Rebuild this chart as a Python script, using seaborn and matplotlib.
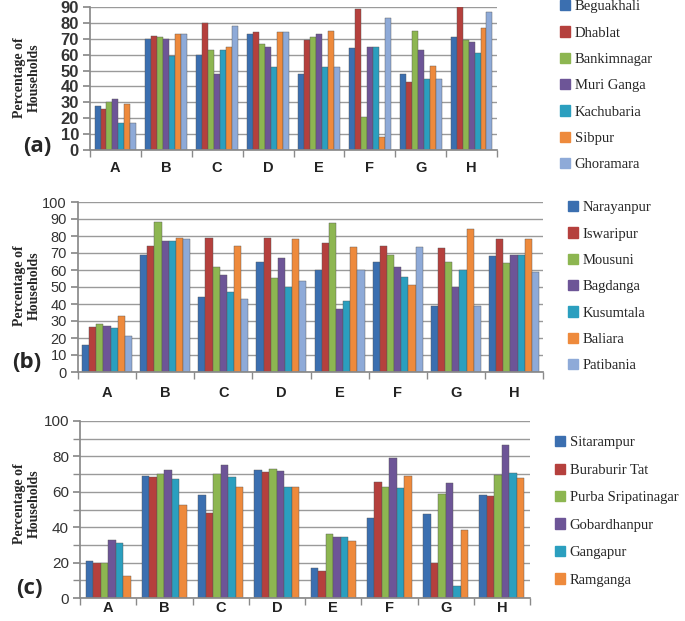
import matplotlib
matplotlib.use("Agg")
import matplotlib.pyplot as plt
import numpy as np
import pandas as pd
import seaborn as sns

categories = ["A", "B", "C", "D", "E", "F", "G", "H"]

# panel (a)
villages_a = ["Beguakhali", "Dhablat", "Bankimnagar", "Muri Ganga", "Kachubaria", "Sibpur", "Ghoramara"]
beguakhali = [28, 70, 60, 73, 48, 64, 48, 71]
dhablat = [26, 72, 80, 74, 69, 89, 43, 90]
bankimnagar = [30, 71, 63, 67, 71, 21, 75, 69]
muri_ganga = [32, 70, 48, 65, 73, 65, 63, 68]
kachubaria = [17, 59, 63, 52, 52, 65, 45, 61]
sibpur = [29, 73, 65, 74, 75, 8, 53, 77]
ghoramara = [17, 73, 78, 74, 52, 83, 45, 87]

# panel (b)
villages_b = ["Narayanpur", "Iswaripur", "Mousuni", "Bagdanga", "Kusumtala", "Baliara", "Patibania"]
narayanpur = [16, 69, 44, 65, 60, 65, 39, 68]
iswaripur = [26.5, 74, 79, 79, 76, 74, 73, 78]
mousuni = [28, 88, 62, 55.5, 87.5, 69, 64.5, 64]
bagdanga = [27, 77, 57, 67, 37, 62, 50, 69]
kusumtala = [26, 77, 47, 50, 42, 56, 60, 69]
baliara = [33, 79, 74, 78.5, 73.5, 51, 84, 78]
patibania = [21, 78, 43, 53.5, 60, 73.5, 39, 59]

# panel (c)
villages_c = ["Sitarampur", "Buraburir Tat", "Purba Sripatinagar", "Gobardhanpur", "Gangapur", "Ramganga"]
sitarampur = [20.8, 69, 58, 72.3, 17, 45, 47.7, 58.3]
buraburir_tat = [20, 68.5, 48.3, 71, 15, 65.7, 20, 57.7]
purba_sripatinagar = [20, 70, 70, 73, 36.4, 62.8, 59, 69.4]
gobardhanpur = [32.6, 72.3, 75, 71.7, 34.5, 79, 65, 86.4]
gangapur = [30.8, 67.5, 68.5, 62.8, 34.5, 62.3, 7, 70.8]
ramganga = [12.5, 52.8, 62.8, 62.5, 32, 69, 38.3, 68]

colors = ["#3b6fb0", "#b5403d", "#8db651", "#6d5597", "#2b9fbf", "#ee8a3c", "#8eaad8"]


def to_long(names, series):
    rows = []
    for name, vals in zip(names, series):
        for cat, v in zip(categories, vals):
            rows.append({"cat": cat, "village": name, "pct": v})
    return pd.DataFrame(rows)


df_a = to_long(villages_a, [beguakhali, dhablat, bankimnagar, muri_ganga, kachubaria, sibpur, ghoramara])
df_b = to_long(villages_b, [narayanpur, iswaripur, mousuni, bagdanga, kusumtala, baliara, patibania])
df_c = to_long(villages_c, [sitarampur, buraburir_tat, purba_sripatinagar, gobardhanpur, gangapur, ramganga])

sns.set_theme(style="white")
plt.rcParams["font.family"] = ["Liberation Sans", "DejaVu Sans"]

W, H = 685, 621
fig = plt.figure(figsize=(W / 100, H / 100), dpi=100)


def px_axes(left, right, top, bottom):
    return fig.add_axes([left / W, 1 - bottom / H, (right - left) / W, (bottom - top) / H])


def draw_panel(ax, df, names, ymax, major, tick_size, tick_weight, bar_width, xpad):
    sns.barplot(data=df, x="cat", y="pct", hue="village", hue_order=names,
                palette=colors[:len(names)], width=bar_width, ax=ax,
                edgecolor="#555555", linewidth=0.3, saturation=1, errorbar=None)
    ax.get_legend().remove()
    ax.set_ylim(0, ymax)
    ax.set_xlim(-0.5, len(categories) - 0.5)
    ax.set_yticks(np.arange(0, ymax + 1, major))
    ax.set_yticks(np.arange(10, ymax if ymax == 90 else ymax - 5, 10), minor=True)
    ax.grid(axis="y", which="both", color="#9a9a9a", linewidth=1.0)
    ax.grid(axis="x", visible=False)
    ax.set_axisbelow(True)
    ax.set_xlabel("")
    ax.set_ylabel("")
    for s in ["top", "right"]:
        ax.spines[s].set_visible(False)
    for s in ["left", "bottom"]:
        ax.spines[s].set_color("#8a8a8a")
    ax.tick_params(axis="y", which="major", left=True, length=5, color="#8a8a8a",
                   labelsize=tick_size, labelcolor="#333333", pad=3)
    ax.tick_params(axis="y", which="minor", left=True, length=5, color="#8a8a8a")
    for t in ax.get_yticklabels():
        t.set_fontweight(tick_weight)
    ax.set_xticks(range(len(categories)))
    ax.set_xticklabels(categories, fontweight="bold", fontsize=10.5, color="#222222")
    ax.tick_params(axis="x", which="major", length=0, pad=xpad)
    ax.set_xticks(np.arange(-0.5, len(categories), 1), minor=True)
    ax.tick_params(axis="x", which="minor", bottom=True, length=5, color="#8a8a8a")


def add_legend(names, x, y, spacing):
    handles = [plt.Rectangle((0, 0), 1, 1, color=c) for c in colors[:len(names)]]
    fig.legend(handles, names, loc="upper left", bbox_to_anchor=(x / W, 1 - y / H),
               frameon=False, prop={"family": "Liberation Serif", "size": 10.5},
               handlelength=0.7, handleheight=0.7, handletextpad=0.3,
               labelspacing=spacing, borderaxespad=0, borderpad=0)


def side_labels(yc, tag, tag_x, tag_y):
    fig.text(27 / W, 1 - yc / H, "Percentage of\nHouseholds", rotation=90, ha="center",
             va="center", multialignment="center", fontsize=10, fontweight="bold",
             family="Liberation Serif", linespacing=1.1)
    fig.text(tag_x / W, 1 - tag_y / H, tag, ha="center", va="center", fontsize=16,
             fontweight="bold", family="Open Sans")


ax_a = px_axes(90, 497, 7, 150)
draw_panel(ax_a, df_a, villages_a, 90, 10, 12, "bold", 0.82, 8)
ax_b = px_axes(78, 543, 202, 372)
draw_panel(ax_b, df_b, villages_b, 100, 10, 10.5, "normal", 0.86, 10)
ax_c = px_axes(80, 530, 421, 598)
draw_panel(ax_c, df_c, villages_c, 100, 20, 11, "normal", 0.8, 2)

add_legend(villages_a, 560, 0, 0.9)
add_legend(villages_b, 568, 201, 0.9)
add_legend(villages_c, 555, 436, 0.98)

side_labels(78, "(a)", 37, 147)
side_labels(286, "(b)", 27, 362)
side_labels(504, "(c)", 29, 588)

fig.savefig("out.png", dpi=100)
